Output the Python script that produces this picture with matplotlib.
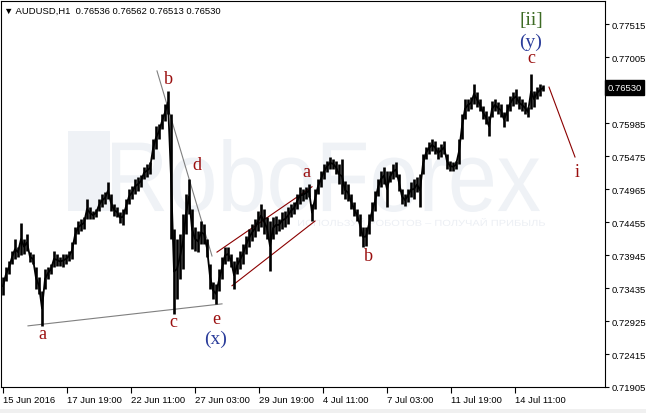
import matplotlib
matplotlib.use("Agg")
import matplotlib.pyplot as plt
from matplotlib.textpath import TextPath
from matplotlib.font_manager import FontProperties
from matplotlib.patches import PathPatch, Rectangle
from matplotlib.transforms import Affine2D, blended_transform_factory

plt.rcParams['font.family'] = ['Liberation Sans', 'DejaVu Sans']

# AUDUSD H1, one sample every 3 hourly bars (high / low)
symbol = "AUDUSD,H1"
last_ohlc = ["0.76536", "0.76562", "0.76513", "0.76530"]
last_close = 0.76530
bar_step = 3

highs = [
    0.7360, 0.7376, 0.7385, 0.7401, 0.7419, 0.7407, 0.7444, 0.7419, 0.7427, 0.7399,
    0.7396, 0.7376, 0.7360, 0.7339, 0.7373, 0.7376, 0.7381, 0.7401, 0.7396, 0.7391,
    0.7396, 0.7396, 0.7401, 0.7415, 0.7438, 0.7447, 0.7450, 0.7453, 0.7481, 0.7469,
    0.7462, 0.7466, 0.7481, 0.7489, 0.7492, 0.7507, 0.7489, 0.7473, 0.7469, 0.7461,
    0.7466, 0.7481, 0.7497, 0.7501, 0.7512, 0.7515, 0.7518, 0.7531, 0.7535, 0.7538,
    0.7574, 0.7594, 0.7597, 0.7613, 0.7628, 0.7648, 0.7613, 0.7435, 0.7419, 0.7427,
    0.7458, 0.7489, 0.7512, 0.7466, 0.7438, 0.7432, 0.7447, 0.7442, 0.7419, 0.7381,
    0.7353, 0.7350, 0.7373, 0.7391, 0.7407, 0.7407, 0.7396, 0.7385, 0.7391, 0.7401,
    0.7412, 0.7424, 0.7435, 0.7442, 0.7450, 0.7462, 0.7473, 0.7466, 0.7453, 0.7447,
    0.7453, 0.7455, 0.7450, 0.7461, 0.7462, 0.7469, 0.7473, 0.7476, 0.7489, 0.7500,
    0.7497, 0.7500, 0.7504, 0.7473, 0.7497, 0.7512, 0.7524, 0.7535, 0.7540, 0.7546,
    0.7543, 0.7540, 0.7535, 0.7543, 0.7509, 0.7504, 0.7489, 0.7476, 0.7466, 0.7458,
    0.7438, 0.7438, 0.7458, 0.7476, 0.7493, 0.7512, 0.7524, 0.7531, 0.7524, 0.7524,
    0.7535, 0.7538, 0.7520, 0.7497, 0.7489, 0.7497, 0.7507, 0.7512, 0.7515, 0.7520,
    0.7551, 0.7562, 0.7569, 0.7574, 0.7571, 0.7562, 0.7566, 0.7571, 0.7551, 0.7540,
    0.7538, 0.7540, 0.7574, 0.7613, 0.7636, 0.7636, 0.7639, 0.7659, 0.7647, 0.7636,
    0.7625, 0.7617, 0.7609, 0.7633, 0.7636, 0.7631, 0.7628, 0.7616, 0.7628, 0.7640,
    0.7647, 0.7651, 0.7640, 0.7636, 0.7631, 0.7623, 0.7674, 0.7648, 0.7654, 0.7659,
    0.7657,
]
lows = [
    0.7333, 0.7354, 0.7365, 0.7381, 0.7388, 0.7391, 0.7394, 0.7396, 0.7401, 0.7384,
    0.7381, 0.7342, 0.7334, 0.7285, 0.7342, 0.7357, 0.7365, 0.7376, 0.7378, 0.7378,
    0.7376, 0.7381, 0.7385, 0.7388, 0.7412, 0.7427, 0.7432, 0.7435, 0.7450, 0.7450,
    0.7450, 0.7453, 0.7462, 0.7469, 0.7473, 0.7481, 0.7462, 0.7455, 0.7453, 0.7444,
    0.7441, 0.7458, 0.7473, 0.7481, 0.7489, 0.7493, 0.7500, 0.7512, 0.7515, 0.7520,
    0.7543, 0.7558, 0.7574, 0.7589, 0.7602, 0.7613, 0.7419, 0.7303, 0.7327, 0.7357,
    0.7373, 0.7427, 0.7458, 0.7404, 0.7401, 0.7399, 0.7412, 0.7412, 0.7391, 0.7342,
    0.7327, 0.7319, 0.7339, 0.7357, 0.7381, 0.7385, 0.7376, 0.7342, 0.7365, 0.7373,
    0.7381, 0.7396, 0.7407, 0.7416, 0.7422, 0.7432, 0.7438, 0.7427, 0.7419, 0.7370,
    0.7419, 0.7427, 0.7432, 0.7435, 0.7438, 0.7442, 0.7453, 0.7458, 0.7466, 0.7473,
    0.7478, 0.7481, 0.7484, 0.7447, 0.7466, 0.7489, 0.7500, 0.7512, 0.7523, 0.7528,
    0.7528, 0.7520, 0.7504, 0.7489, 0.7481, 0.7478, 0.7466, 0.7455, 0.7447, 0.7424,
    0.7407, 0.7408, 0.7427, 0.7447, 0.7462, 0.7486, 0.7500, 0.7504, 0.7469, 0.7507,
    0.7512, 0.7515, 0.7493, 0.7473, 0.7470, 0.7476, 0.7484, 0.7481, 0.7492, 0.7469,
    0.7520, 0.7543, 0.7551, 0.7555, 0.7551, 0.7543, 0.7546, 0.7551, 0.7528, 0.7524,
    0.7524, 0.7528, 0.7535, 0.7574, 0.7605, 0.7617, 0.7620, 0.7628, 0.7623, 0.7617,
    0.7605, 0.7597, 0.7578, 0.7608, 0.7617, 0.7613, 0.7608, 0.7592, 0.7602, 0.7617,
    0.7625, 0.7628, 0.7620, 0.7617, 0.7613, 0.7608, 0.7620, 0.7623, 0.7636, 0.7640,
    0.7648,
]

date_ticks = [0, 64, 128, 192, 256, 320, 384, 448, 512]
date_labels = ["15 Jun 2016", "17 Jun 19:00", "22 Jun 11:00", "27 Jun 03:00",
               "29 Jun 19:00", "4 Jul 11:00", "7 Jul 03:00", "11 Jul 19:00",
               "14 Jul 11:00"]
price_ticks = [0.71905, 0.72415, 0.72925, 0.73435, 0.73945, 0.74455,
               0.74965, 0.75475, 0.75985, 0.76495, 0.77005, 0.77515]

# wave marks: text, bar, price, colour, size
dark_red = "#9a0f0f"
blue = "#2a3c9a"
green = "#3d6b24"
wave_labels = [
    ("a", 39, 0.7273, dark_red, 13),
    ("b", 165, 0.7668, dark_red, 13),
    ("c", 170, 0.7291, dark_red, 13),
    ("d", 194, 0.7535, dark_red, 13),
    ("e", 213, 0.7296, dark_red, 13),
    ("(x)", 213, 0.7265, blue, 14),
    ("a", 303, 0.7524, dark_red, 13),
    ("b", 365, 0.7393, dark_red, 13),
    ("c", 528, 0.7700, dark_red, 13),
    ("(y)", 528, 0.7724, blue, 14),
    ("[ii]", 528, 0.7759, green, 14),
    ("i", 574, 0.7524, dark_red, 13),
]

# trend lines: (bar0, price0, bar1, price1, colour)
trend_lines = [
    (25, 0.7285, 219, 0.7319, "#808080"),
    (154, 0.7679, 209, 0.7393, "#808080"),
    (214, 0.7399, 309, 0.7500, "#8b0000"),
    (229, 0.7347, 312, 0.7447, "#8b0000"),
    (546, 0.7654, 572, 0.7546, "#8b0000"),
]

W, H, DPI = 646, 414, 100
fig = plt.figure(figsize=(W / DPI, H / DPI), dpi=DPI)
fig.patch.set_facecolor("white")

# pixel coordinates measured from the top-left corner
px = Affine2D().scale(1, -1).translate(0, H).scale(1 / DPI) + fig.dpi_scale_trans


def path_text(s, x0, x1, top, base, color, family="Liberation Sans"):
    tp = TextPath((0, 0), s, size=1, prop=FontProperties(family=family))
    bb = tp.get_extents()
    tr = Affine2D().translate(-bb.x0, -bb.y0).scale((x1 - x0) / bb.width,
                                                    -(base - top) / bb.height).translate(x0, base)
    fig.patches.append(PathPatch(tp, transform=tr + px, fc=color, ec="none", zorder=0))


# watermark (drawn under the axes)
wm = "#eff2f6"
fig.patches.append(Rectangle((68, 212), 42, -80, transform=px, fc=wm, ec="none", zorder=0))
path_text("RoboForex", 112, 540, 140, 213, wm)
path_text("ИСПОЛЬЗУЙ РОБОТОВ – ПОЛУЧАЙ ПРИБЫЛЬ", 298, 545, 219, 227, "#eceff4")

ax = fig.add_axes([1 / W, 1 - 388 / H, 604 / W, 386 / H])
ax.set_zorder(1)
ax.patch.set_alpha(0)

bars = [i * bar_step for i in range(len(highs))]
mids = [(h + l) / 2 for h, l in zip(highs, lows)]
ax.vlines(bars, lows, highs, color="black", lw=1.9, zorder=3)
ax.plot(bars, mids, color="black", lw=1.3, zorder=3)

for b0, p0, b1, p1, c in trend_lines:
    ax.plot([b0, b1], [p0, p1], color=c, lw=0.8, zorder=2)

for s, b, p, c, fs in wave_labels:
    ax.text(b, p, s, color=c, fontsize=fs, family="Liberation Serif",
            ha="center", va="center", zorder=4)

ax.set_xlim(-2, 602)
ax.set_ylim(0.71905, 0.77871)

ax.set_xticks(date_ticks, date_labels)
for lab in ax.get_xticklabels():
    lab.set_horizontalalignment("left")
ax.tick_params(axis="x", direction="out", length=4, width=0.8, pad=1.5, labelsize=6.8)

# the 0.76495 label sits under the current-price box, so only its tick shows
ax.yaxis.tick_right()
ax.set_yticks(price_ticks, ["" if abs(v - 0.76495) < 1e-6 else f"{v:.5f}" for v in price_ticks])
ax.tick_params(axis="y", direction="out", length=3, width=0.8, pad=2, labelsize=6.8)
for sp in ax.spines.values():
    sp.set_linewidth(0.8)
    sp.set_color("black")

# current price marker
ax.text(1.004, last_close, f"{last_close:.5f}", color="white", fontsize=6.8,
        transform=blended_transform_factory(ax.transAxes, ax.transData),
        ha="left", va="center", zorder=10, clip_on=False,
        bbox=dict(boxstyle="square,pad=0.3", fc="black", ec="black"))

ax.text(3 / 604, 1 - 9 / 386, "▼ " + symbol + "  " + " ".join(last_ohlc),
        transform=ax.transAxes, fontsize=6.8, ha="left", va="center", zorder=5)

fig.patches.append(Rectangle((0, 410), W, 4, transform=px, fc="#f0f0f0", ec="none", zorder=0))

fig.savefig("out.png", dpi=DPI)
